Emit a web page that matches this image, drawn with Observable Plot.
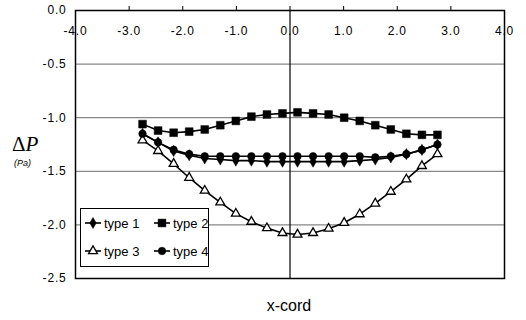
<!DOCTYPE html>
<html>
<head>
<meta charset="utf-8">
<script src="https://cdn.jsdelivr.net/npm/d3@7"></script>
<script src="https://cdn.jsdelivr.net/npm/@observablehq/plot@0.6"></script>
<style>
  body { margin: 0; background: #fff; }
  #wrap { position: relative; width: 526px; height: 320px; font-family: "Liberation Sans", Arial, sans-serif; }
  #chart svg text { letter-spacing: 0.8px; }
  #ylab { position: absolute; left: 12px; top: 134px; font-family: "Liberation Serif", "DejaVu Serif", serif; font-size: 21px; line-height: 21px; }
  #ylab i { font-style: italic; }
  #yunit { position: absolute; left: 14px; top: 158px; font-family: "Liberation Sans", Arial, sans-serif; font-size: 9px; font-style: italic; }
  #xlab { position: absolute; left: 0; width: 578px; top: 297px; text-align: center; font-size: 16px; }
  #legend { position: absolute; left: 80px; top: 208px; width: 127px; height: 57px; border: 1.5px solid #000; background: #fff; font-size: 13px; }
  .entry { position: absolute; display: flex; align-items: center; white-space: nowrap; }
  .entry svg { margin-right: 2px; }
</style>
</head>
<body>
<div id="wrap">
  <div id="chart"></div>
  <div id="ylab">Δ<i>P</i></div>
  <div id="yunit">(Pa)</div>
  <div id="xlab">x-cord</div>
  <div id="legend"></div>
</div>
<script>
const xcord = [-2.75,-2.46,-2.17,-1.88,-1.59,-1.30,-1.01,-0.72,-0.43,-0.14,0.14,0.43,0.72,1.01,1.30,1.59,1.88,2.17,2.46,2.75];
const type1 = [-1.15,-1.23,-1.31,-1.35,-1.38,-1.39,-1.40,-1.40,-1.41,-1.41,-1.41,-1.41,-1.41,-1.41,-1.40,-1.39,-1.37,-1.34,-1.30,-1.25];
const type2 = [-1.06,-1.12,-1.14,-1.13,-1.11,-1.07,-1.03,-0.99,-0.97,-0.96,-0.95,-0.96,-0.97,-1.00,-1.03,-1.07,-1.11,-1.15,-1.16,-1.16];
const type3 = [-1.21,-1.31,-1.43,-1.56,-1.68,-1.79,-1.895,-1.97,-2.03,-2.075,-2.09,-2.075,-2.035,-1.98,-1.90,-1.80,-1.69,-1.575,-1.45,-1.34];
const type4 = [-1.15,-1.23,-1.30,-1.34,-1.36,-1.36,-1.36,-1.36,-1.36,-1.36,-1.36,-1.36,-1.36,-1.36,-1.36,-1.37,-1.36,-1.34,-1.30,-1.25];
const seriesNames = ["type 1","type 2","type 3","type 4"];
const xTicks = [-4,-3,-2,-1,0,1,2,3,4];
const yTicks = [0,-0.5,-1.0,-1.5,-2.0,-2.5];
const gridY = [-0.5,-1.0,-1.5,-2.0];

const seriesValues = [type1, type2, type3, type4];
const data = [];
seriesNames.forEach((name, i) => xcord.forEach((x, j) => data.push({type: name, x, y: seriesValues[i][j]})));

const styles = {
  "type 1": {symbol: "diamond", fill: "#000", r: 3.4},
  "type 2": {symbol: "square", fill: "#000", r: 4.4},
  "type 3": {symbol: "triangle", fill: "#fff", r: 3.3},
  "type 4": {symbol: "circle", fill: "#000", r: 3.8}
};

const fmt = d => d.toFixed(1);

const marks = [
  Plot.ruleY(gridY, {stroke: "#6a6a6a", strokeWidth: 1}),
  Plot.ruleX([0], {stroke: "#000", strokeWidth: 1.2}),
  Plot.frame({stroke: "#000", strokeWidth: 1.5}),
  Plot.axisX(xTicks.slice(1, -1), {anchor: "top", tickSize: 5, tickFormat: () => "", label: null}),
  Plot.axisX(xTicks, {anchor: "top", tickSize: 0, tickPadding: -24, tickFormat: fmt, label: null, fontSize: 12}),
  Plot.axisY(yTicks, {anchor: "left", tickSize: 0, tickPadding: 9, tickFormat: fmt, label: null, fontSize: 12}),
  Plot.line(data, {x: "x", y: "y", z: "type", stroke: "#000", strokeWidth: 1.6})
];
seriesNames.forEach(name => {
  const s = styles[name];
  marks.push(Plot.dot(data.filter(d => d.type === name), {x: "x", y: "y", symbol: () => s.symbol, r: s.r, fill: s.fill, stroke: "#000", strokeWidth: name === "type 3" ? 1.3 : 0.5}));
});

const chart = Plot.plot({
  width: 526,
  height: 320,
  marginLeft: 75,
  marginRight: 22,
  marginTop: 10,
  marginBottom: 42,
  x: {domain: [-4, 4]},
  y: {domain: [-2.5, 0]},
  symbol: {type: "identity"},
  style: {fontFamily: "Liberation Sans, Arial, sans-serif", fontSize: "12px", color: "#000", background: "#fff"},
  marks
});
document.getElementById("chart").appendChild(chart);

// legend
const legend = document.getElementById("legend");
const pos = [[3, 6], [72, 6], [3, 34], [72, 34]];
const symMap = {diamond: d3.symbolDiamond, square: d3.symbolSquare, triangle: d3.symbolTriangle, circle: d3.symbolCircle};
seriesNames.forEach((name, i) => {
  const s = styles[name];
  const e = document.createElement("div");
  e.className = "entry";
  e.style.left = pos[i][0] + "px";
  e.style.top = pos[i][1] + "px";
  const svg = d3.create("svg").attr("width", 18).attr("height", 16);
  svg.append("line").attr("x1", 1).attr("x2", 17).attr("y1", 8).attr("y2", 8).attr("stroke", "#000").attr("stroke-width", 1.6);
  svg.append("path").attr("transform", "translate(9,8)")
    .attr("d", d3.symbol(symMap[s.symbol], Math.PI * s.r * s.r)())
    .attr("fill", s.fill).attr("stroke", "#000").attr("stroke-width", name === "type 3" ? 1.3 : 0.5);
  e.appendChild(svg.node());
  const t = document.createElement("span");
  t.textContent = name;
  e.appendChild(t);
  legend.appendChild(e);
});
</script>
</body>
</html>
